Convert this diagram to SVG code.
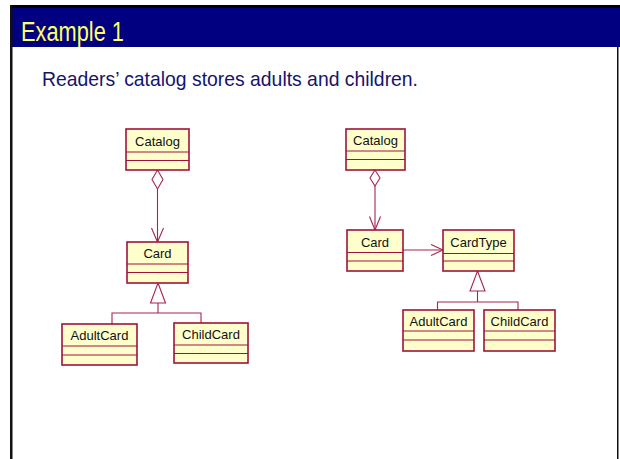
<svg xmlns="http://www.w3.org/2000/svg" width="620" height="459" viewBox="0 0 620 459">
<style>
.box{fill:#FFFFCC;stroke:#A0123E;stroke-width:1.6}
.sep{stroke:#A0123E;stroke-width:1.2}
.lbl{font-family:"Liberation Sans",Arial,sans-serif;font-size:13px;fill:#111;text-anchor:middle}
.con{fill:none;stroke:#A8244E;stroke-width:1.1}
.tri{fill:#FFFFFF;stroke:#A8244E;stroke-width:1.1}
</style>
<rect x="0" y="0" width="620" height="459" fill="#FFFFFF"/>
<rect x="10" y="5" width="610" height="3" fill="#000000"/>
<rect x="10" y="8" width="610" height="39" fill="#000080"/>
<rect x="10" y="5" width="2.5" height="454" fill="#111111"/>
<rect x="617" y="47" width="1.5" height="412" fill="#111111"/>
<text x="21" y="41" font-family="'Liberation Sans',Arial,sans-serif" font-size="27" fill="#FFFF66" textLength="103" lengthAdjust="spacingAndGlyphs">Example 1</text>
<text x="42" y="86" font-family="'Liberation Sans',Arial,sans-serif" font-size="21" fill="#14146E" textLength="376" lengthAdjust="spacingAndGlyphs">Readers’ catalog stores adults and children.</text>

<g id="connectors">
<polygon class="tri" points="157.5,170 163,179.5 157.5,189 152,179.5"/>
<line class="con" x1="157.5" y1="189" x2="157.5" y2="242"/>
<polyline class="con" points="151.5,228 157.5,242 163.5,228"/>
<polyline class="con" points="158,303 158,313"/>
<polyline class="con" points="112,324 112,313 201,313 201,323"/>
<polygon class="tri" points="158,283 165.5,303 150.5,303"/>

<polygon class="tri" points="375,170 380,178 375,186 370,178"/>
<line class="con" x1="375" y1="186" x2="375" y2="230"/>
<polyline class="con" points="369.5,216.5 375,230 380.5,216.5"/>
<line class="con" x1="403" y1="250" x2="443" y2="250"/>
<polyline class="con" points="431,244.5 443,250 431,255.5"/>
<polyline class="con" points="477.5,291 477.5,302"/>
<polyline class="con" points="437.5,310 437.5,302 518,302 518,310"/>
<polygon class="tri" points="477.5,271 485,291 470,291"/>
</g>

<g id="catalog1">
<rect class="box" x="126" y="129" width="63" height="41"/>
<line class="sep" x1="126" y1="152" x2="189" y2="152"/>
<line class="sep" x1="126" y1="160.5" x2="189" y2="160.5"/>
<text class="lbl" x="157.5" y="146">Catalog</text>
</g>
<g id="card1">
<rect class="box" x="127" y="242" width="61" height="41"/>
<line class="sep" x1="127" y1="264" x2="188" y2="264"/>
<line class="sep" x1="127" y1="272.5" x2="188" y2="272.5"/>
<text class="lbl" x="157.5" y="258">Card</text>
</g>
<g id="adultcard1">
<rect class="box" x="62" y="324" width="75" height="41"/>
<line class="sep" x1="62" y1="346" x2="137" y2="346"/>
<line class="sep" x1="62" y1="355" x2="137" y2="355"/>
<text class="lbl" x="99.5" y="340">AdultCard</text>
</g>
<g id="childcard1">
<rect class="box" x="174" y="323" width="74" height="40"/>
<line class="sep" x1="174" y1="345" x2="248" y2="345"/>
<line class="sep" x1="174" y1="353.5" x2="248" y2="353.5"/>
<text class="lbl" x="211" y="339">ChildCard</text>
</g>

<g id="catalog2">
<rect class="box" x="346" y="129" width="59" height="41"/>
<line class="sep" x1="346" y1="151" x2="405" y2="151"/>
<line class="sep" x1="346" y1="159.5" x2="405" y2="159.5"/>
<text class="lbl" x="375.5" y="145">Catalog</text>
</g>
<g id="card2">
<rect class="box" x="347" y="230" width="56" height="41"/>
<line class="sep" x1="347" y1="252.5" x2="403" y2="252.5"/>
<line class="sep" x1="347" y1="261" x2="403" y2="261"/>
<text class="lbl" x="375" y="247">Card</text>
</g>
<g id="cardtype2">
<rect class="box" x="443" y="230" width="71" height="41"/>
<line class="sep" x1="443" y1="253.5" x2="514" y2="253.5"/>
<line class="sep" x1="443" y1="261" x2="514" y2="261"/>
<text class="lbl" x="478.5" y="247">CardType</text>
</g>
<g id="adultcard2">
<rect class="box" x="403" y="310" width="71" height="41"/>
<line class="sep" x1="403" y1="331" x2="474" y2="331"/>
<line class="sep" x1="403" y1="340" x2="474" y2="340"/>
<text class="lbl" x="438.5" y="326">AdultCard</text>
</g>
<g id="childcard2">
<rect class="box" x="484" y="310" width="71" height="41"/>
<line class="sep" x1="484" y1="331" x2="555" y2="331"/>
<line class="sep" x1="484" y1="340" x2="555" y2="340"/>
<text class="lbl" x="519.5" y="326">ChildCard</text>
</g>
</svg>
